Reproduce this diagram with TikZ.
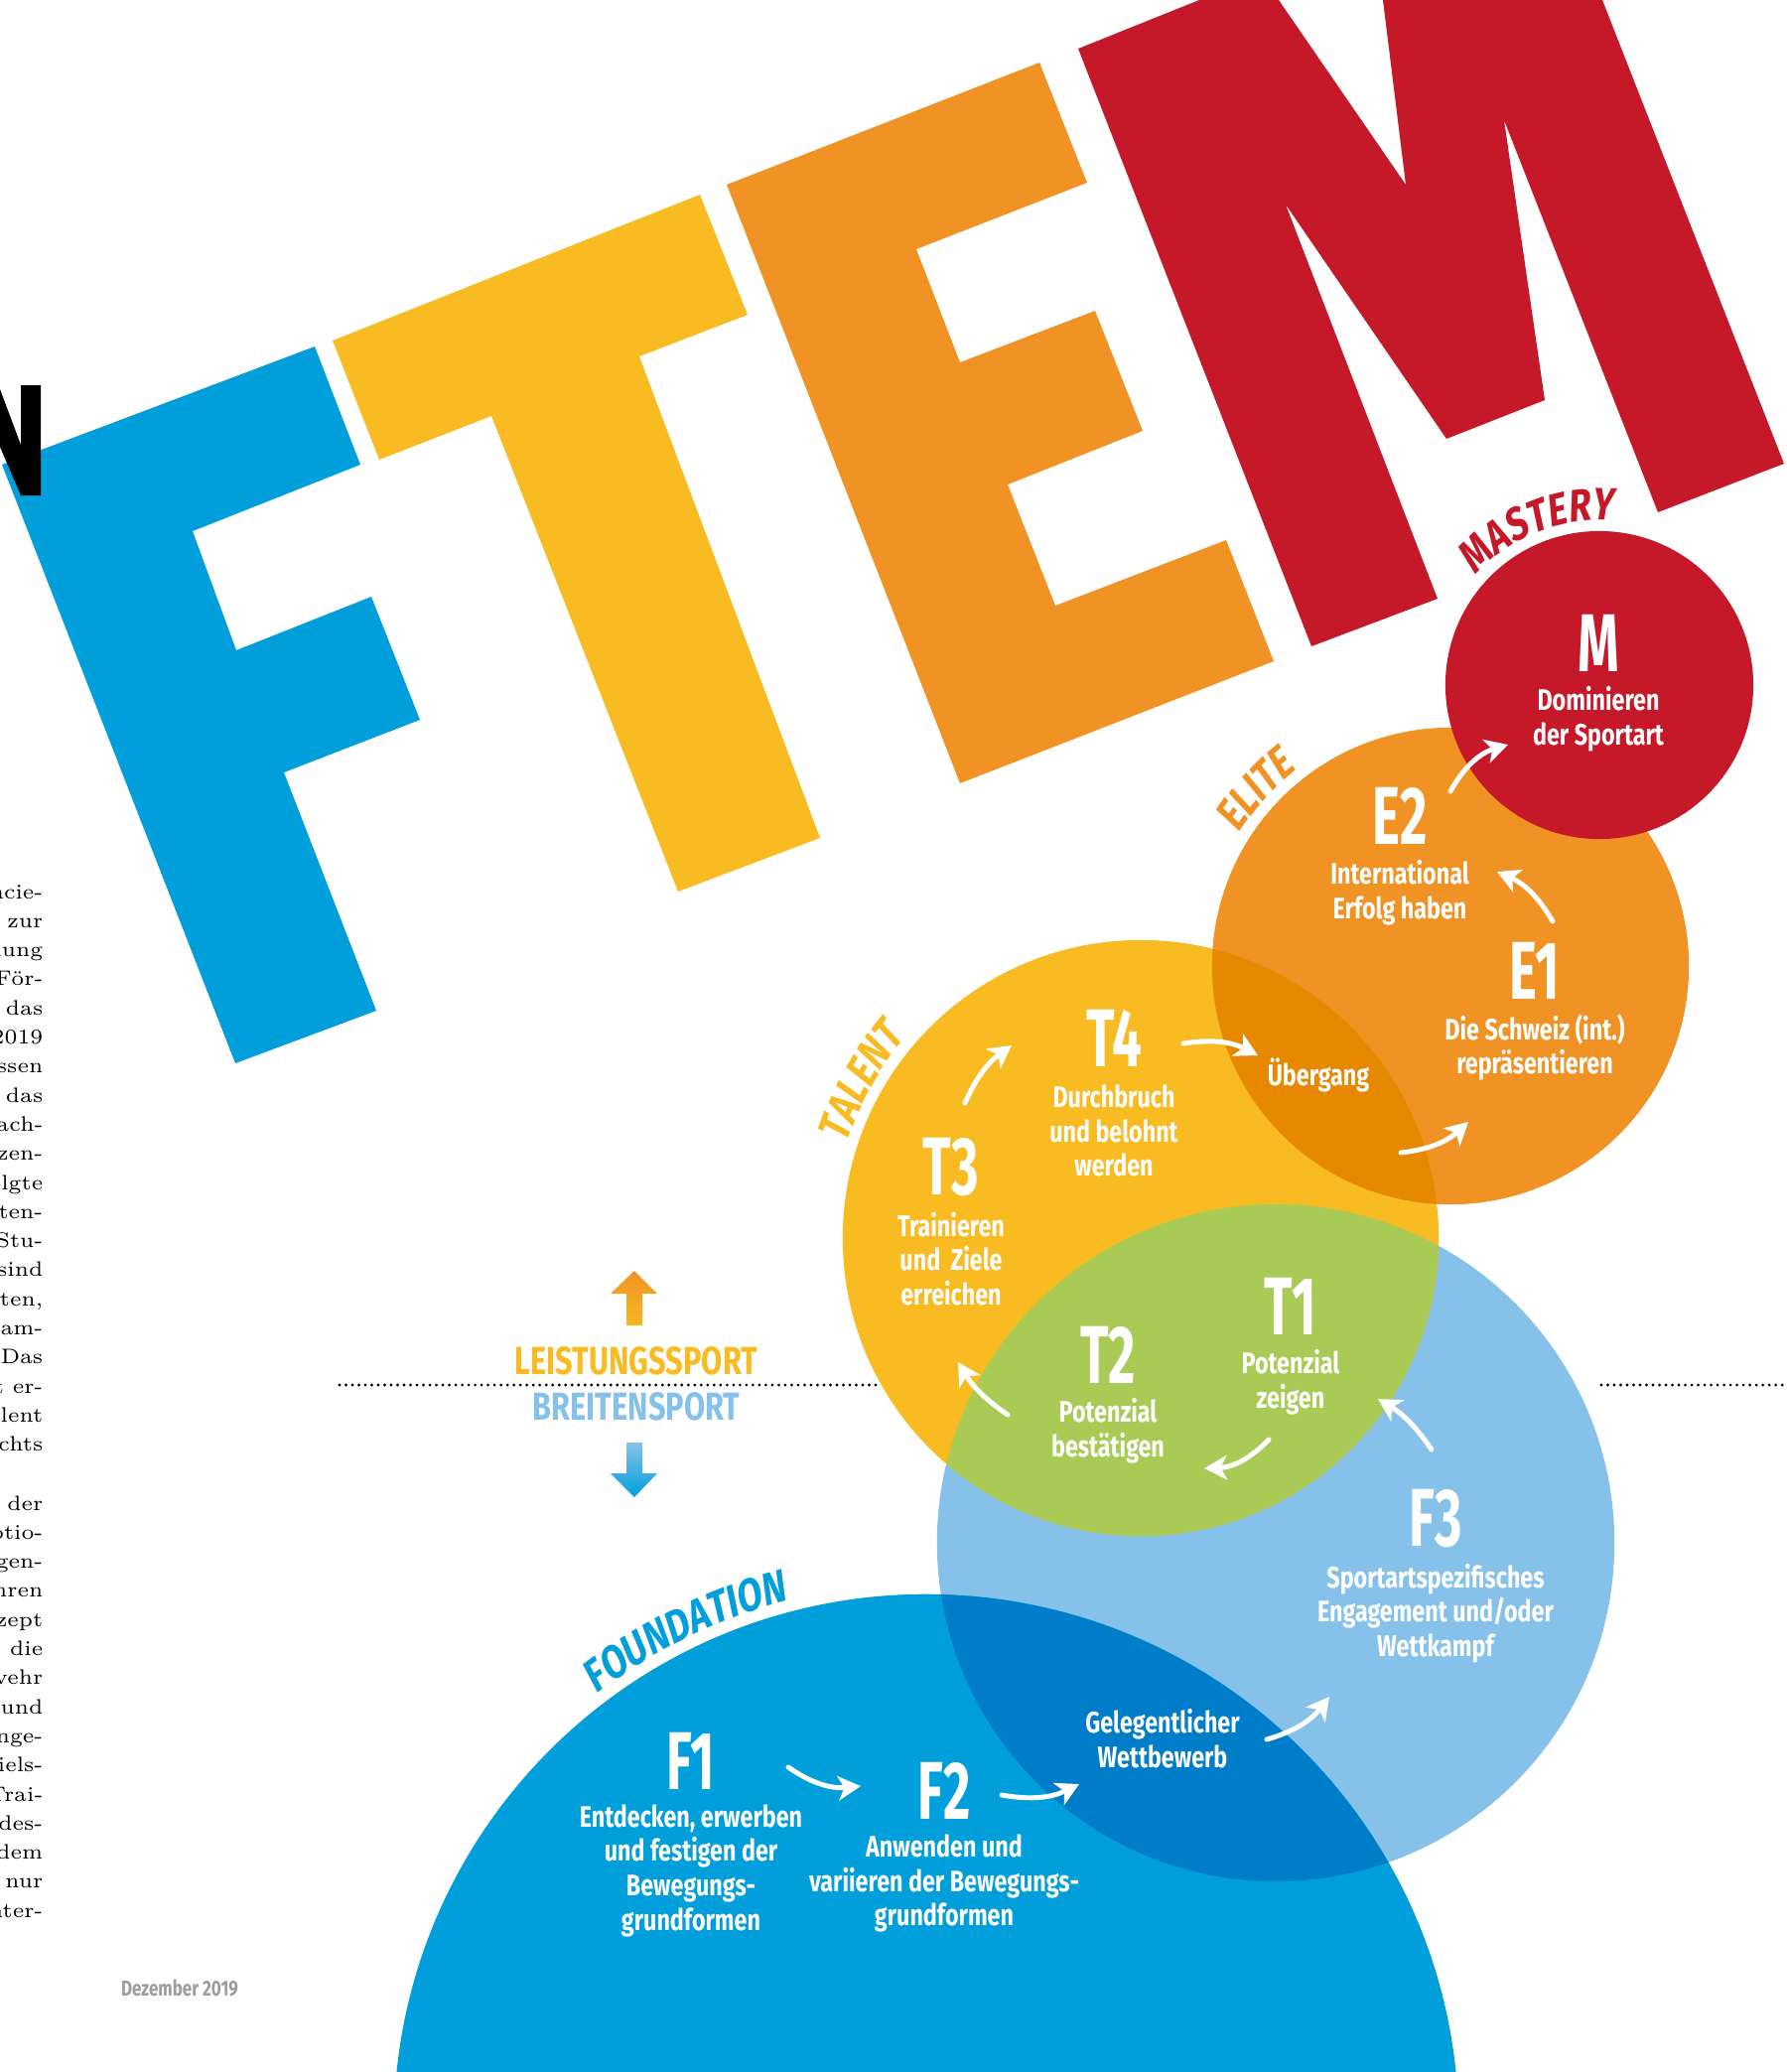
\documentclass[tikz,border=0pt]{standalone}
\usepackage{fontspec}
\usetikzlibrary{arrows.meta,decorations.text}

\newfontfamily\condfont[FakeStretch=0.78]{Fira Sans}
\newfontfamily\codefont[FakeStretch=0.64]{Fira Sans}
\newfontfamily\arcfont[FakeStretch=0.8,FakeSlant=0.15]{Fira Sans}

\definecolor{ftemblue}{HTML}{009FDB}
\definecolor{ftemyellow}{HTML}{F8BB22}
\definecolor{ftemorange}{HTML}{F09324}
\definecolor{ftemred}{HTML}{C51828}
\definecolor{ftemlight}{HTML}{86C1EA}
\definecolor{ftemgreen}{HTML}{A9CB56}
\definecolor{ftemdarkor}{HTML}{E68900}
\definecolor{ftemdarkbl}{HTML}{007DC8}
\definecolor{pagegray}{HTML}{9D9D9D}

\begin{document}
\begin{tikzpicture}[
        x = 0.01cm, y = -0.01cm,
        stage/.style = {circle, inner sep=0pt, outer sep=0pt},
        code/.style = {text=white, inner sep=0pt, font=\codefont\bfseries\fontsize{23.5}{24}\selectfont},
        desc/.style = {text=white, inner sep=0pt, align=center, font=\condfont\bfseries\fontsize{8.5}{9.85}\selectfont},
        side/.style = {inner sep=0pt, font=\condfont\bfseries\fontsize{11.2}{12}\selectfont},
        column/.style = {inner sep=0pt, font=\fontsize{6}{8}\selectfont},
        flow/.style = {white, line width=1.4pt, line cap=round, -{Stealth[length=6.5pt, width=7pt, inset=1.8pt]}},
        arclabel/.style 2 args = {decorate, decoration={text along path, text align=center, text color=#1,
            text={|\arcfont\bfseries\fontsize{13}{13}\selectfont|#2}}},
      ]
      \useasboundingbox (0,0) rectangle (1799,2087);
      \clip (0,0) rectangle (1799,2087);
      \fill[white] (0,0) rectangle (1799,2087);

      % cut-off text column on the left
      \foreach \t [count=\i from 0] in {ncie-, zur, lung, För-, das, \oldstylenums{2019}, ssen, das, ach-, zen-,
          olgte, ten-, Stu-, sind, {lten,}, am-, Das, t er-, alent, chts}
        \node[column, anchor=base east] (pa\i) at (44, 905+29.3*\i) {\t};
      \foreach \t [count=\i from 0] in {s der, otio-, gen-, hren, zept, r die, vehr, und, nge-, iels-,
          Trai-, des-, dem, nur, nter-}
        \node[column, anchor=base east] (pb\i) at (44, 1521+29.3*\i) {\t};

      % big letters
      \fill[ftemblue] (2,468) -- (317,349) -- (363,468) -- (194,535) -- (238,655) -- (374,601)
        -- (423,725) -- (286,778) -- (379,1018) -- (237,1071) -- cycle;
      \fill[black] (0,392) -- (21,448) -- (21,388) -- (41,388) -- (41,499) -- (21,499) -- (0,450) -- cycle;
      \fill[ftemyellow] (335,343) -- (705,196) -- (753,317) -- (644,359) -- (826,844) -- (683,898)
        -- (495,419) -- (382,463) -- cycle;
      \fill[ftemorange] (732,186) -- (1047,63) -- (1095,184) -- (923,251) -- (967,365) -- (1103,313)
        -- (1151,434) -- (1015,488) -- (1063,610) -- (1235,544) -- (1283,666) -- (967,789) -- cycle;
      \fill[ftemred] (1086,49) -- (1208,0) -- (1288,0) -- (1416,186) -- (1393,0) -- (1614,0) -- (1797,467)
        -- (1670,516) -- (1515,121) -- (1556,403) -- (1457,442) -- (1295,206) -- (1448,603)
        -- (1321,651) -- cycle;

      % divider and direction arrows
      \draw[line width=0.9pt, line cap=round, dash pattern=on 0pt off 1.85pt] (342,1395) -- (882,1395);
      \draw[line width=0.9pt, line cap=round, dash pattern=on 0pt off 1.85pt] (1613,1395) -- (1799,1395);
      \shade[top color=ftemorange, bottom color=ftemyellow!90!ftemorange]
        (639,1280) -- (662,1303) -- (647,1303) -- (647,1335) -- (631,1335) -- (631,1303) -- (615,1303) -- cycle;
      \shade[top color=ftemlight, bottom color=ftemblue]
        (631,1453) -- (647,1453) -- (647,1484) -- (662,1484) -- (639,1508) -- (615,1484) -- (631,1484) -- cycle;
      \node[side, text=ftemyellow] (up) at (641,1371) {LEISTUNGSSPORT};
      \node[side, text=ftemlight] (down) at (641,1417) {BREITENSPORT};
      \node[inner sep=0pt, text=pagegray, font=\condfont\bfseries\fontsize{6.2}{7}\selectfont] (date) at (181,2003) {Dezember 2019};

      % stage circles
      \node[stage, fill=ftemlight, minimum size=6.82cm] (F3) at (1285,1554) {};
      \node[stage, fill=ftemblue, minimum size=10.72cm] (F) at (933,2142) {};
      \begin{scope}
        \clip (F.center) circle[radius=536];
        \fill[ftemdarkbl] (F3.center) circle[radius=341];
      \end{scope}
      \node[stage, fill=ftemyellow, minimum size=6cm] (T) at (1149,1247) {};
      \begin{scope}
        \clip (T.center) circle[radius=300];
        \fill[ftemgreen] (F3.center) circle[radius=341];
      \end{scope}
      \node[stage, fill=ftemorange, minimum size=4.8cm] (E) at (1461,973) {};
      \begin{scope}
        \clip (E.center) circle[radius=240];
        \fill[ftemdarkor] (T.center) circle[radius=300];
      \end{scope}
      \node[stage, fill=ftemred, minimum size=3.1cm] (M) at (1611,690) {};

      % curved stage names
      \path[arclabel={ftemred}{MASTERY}] ([shift={(-160:166)}]M.center) arc[start angle=-160, end angle=-64, radius=166];
      \path[arclabel={ftemorange}{ELITE}] ([shift={(-180:251)}]E.center) arc[start angle=-180, end angle=-96, radius=251];
      \path[arclabel={ftemyellow}{TALENT}] ([shift={(-190:311)}]T.center) arc[start angle=-190, end angle=-112, radius=311];
      \path[arclabel={ftemblue}{FOUNDATION}] ([shift={(-140:548)}]F.center) arc[start angle=-140, end angle=-92, radius=548];

      % phase labels
      \node[code] (lM) at (1610,648) {M};
      \node[desc] (dM) at (1610,724) {Dominieren\\der Sportart};
      \node[code] (lE2) at (1410,822) {E2};
      \node[desc] (dE2) at (1410,899) {International\\Erfolg haben};
      \node[code] (lE1) at (1546,978) {E1};
      \node[desc] (dE1) at (1546,1055) {Die Schweiz (int.)\\repräsentieren};
      \node[desc] (trans) at (1328,1083) {Übergang};
      \node[code] (lT4) at (1122,1046) {T4};
      \node[desc] (dT4) at (1122,1139) {Durchbruch\\und belohnt\\werden};
      \node[code] (lT3) at (958,1176) {T3};
      \node[desc] (dT3) at (958,1268) {Trainieren\\und\, Ziele\\erreichen};
      \node[code] (lT1) at (1300,1316) {T1};
      \node[desc] (dT1) at (1300,1392) {Potenzial\\zeigen};
      \node[code] (lT2) at (1116,1365) {T2};
      \node[desc] (dT2) at (1116,1441) {Potenzial\\bestätigen};
      \node[code] (lF3) at (1446,1530) {F3};
      \node[desc] (dF3) at (1446,1625) {Sportartspezifisches\\Engagement und/oder\\Wettkampf};
      \node[desc] (comp) at (1171,1751) {Gelegentlicher\\Wettbewerb};
      \node[code] (lF1) at (696,1774) {F1};
      \node[desc] (dF1) at (696,1884) {Entdecken, erwerben\\und festigen der\\Bewegungs-\\grundformen};
      \node[code] (lF2) at (951,1804) {F2};
      \node[desc] (dF2) at (951,1897) {Anwenden und\\variieren der Bewegungs-\\grundformen};

      % arrows
      \coordinate (a1s) at (1461,797);   \coordinate (a1e) at (1519,750);
      \coordinate (a2s) at (1564,928);   \coordinate (a2e) at (1508,878);
      \coordinate (a3s) at (1411,1161);  \coordinate (a3e) at (1479,1130);
      \coordinate (a4s) at (1192,1051);  \coordinate (a4e) at (1267,1063);
      \coordinate (a5s) at (972,1111);   \coordinate (a5e) at (1019,1053);
      \coordinate (a6s) at (1015,1425);  \coordinate (a6e) at (965,1372);
      \coordinate (a7s) at (1278,1450);  \coordinate (a7e) at (1213,1479);
      \coordinate (a8s) at (1442,1460);  \coordinate (a8e) at (1388,1409);
      \coordinate (a9s) at (1276,1752);  \coordinate (a9e) at (1339,1709);
      \coordinate (a10s) at (1009,1808); \coordinate (a10e) at (1087,1797);
      \coordinate (a11s) at (794,1780);  \coordinate (a11e) at (867,1799);
      \draw[flow] (a1s) to[bend left=22] (a1e);
      \draw[flow] (a2s) to[bend right=18] (a2e);
      \draw[flow] (a3s) to[bend right=18] (a3e);
      \draw[flow] (a4s) to[bend left=18] (a4e);
      \draw[flow] (a5s) to[bend left=15] (a5e);
      \draw[flow] (a6s) to[bend left=12] (a6e);
      \draw[flow] (a7s) to[bend left=22] (a7e);
      \draw[flow] (a8s) to[bend right=12] (a8e);
      \draw[flow] (a9s) to[bend right=18] (a9e);
      \draw[flow] (a10s) to[bend right=18] (a10e);
      \draw[flow] (a11s) to[bend right=20] (a11e);

    \end{tikzpicture}
\end{document}
